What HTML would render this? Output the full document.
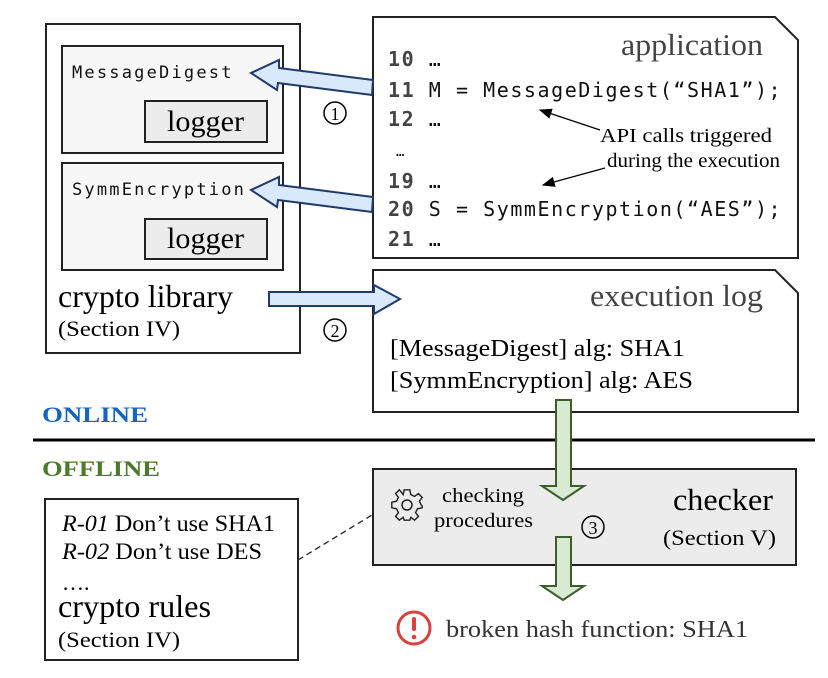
<!DOCTYPE html>
<html><head><style>body{margin:0;background:#fff}svg{display:block}</style></head><body>
<svg width="828" height="678" viewBox="0 0 828 678" xmlns="http://www.w3.org/2000/svg" font-family="Liberation Serif, serif">
<defs><marker id="ah" markerWidth="10" markerHeight="8" refX="9" refY="4" orient="auto"><path d="M0,0 L10,4 L0,8 z" fill="#000"/></marker></defs>
<!-- left library -->
<rect x="46" y="24" width="254" height="329" fill="#fff" stroke="#222" stroke-width="2"/>
<rect x="62" y="46" width="221" height="107" fill="#f7f7f7" stroke="#222" stroke-width="2"/>
<rect x="145" y="101" width="122" height="41" fill="#ececec" stroke="#222" stroke-width="2"/>
<rect x="62" y="163" width="221" height="107" fill="#f7f7f7" stroke="#222" stroke-width="2"/>
<rect x="145" y="219" width="122" height="40" fill="#ececec" stroke="#222" stroke-width="2"/>
<g font-family="DejaVu Sans Mono, Liberation Mono, monospace" font-size="17" fill="#111" letter-spacing="2.2">
<text x="72" y="78">MessageDigest</text><text x="72" y="195">SymmEncryption</text></g>
<text x="167" y="131" font-size="30" textLength="77" lengthAdjust="spacingAndGlyphs">logger</text>
<text x="167" y="248" font-size="30" textLength="77" lengthAdjust="spacingAndGlyphs">logger</text>
<text x="58" y="307" font-size="32" textLength="175" lengthAdjust="spacingAndGlyphs">crypto library</text>
<text x="58" y="336" font-size="22" textLength="122" lengthAdjust="spacingAndGlyphs">(Section IV)</text>
<!-- application -->
<path d="M373,17 H775 L798,40 V258 H373 Z" fill="#fff" stroke="#222" stroke-width="2"/>
<text x="621" y="55" font-size="31" fill="#444" textLength="142" lengthAdjust="spacingAndGlyphs">application</text>
<g font-family="DejaVu Sans Mono, Liberation Mono, monospace" font-size="20" fill="#111" letter-spacing="1.55">
<text x="388" y="66"><tspan fill="#444" font-weight="bold">10</tspan> …</text>
<text x="388" y="97"><tspan fill="#444" font-weight="bold">11</tspan> M = MessageDigest(“SHA1”);</text>
<text x="388" y="126"><tspan fill="#444" font-weight="bold">12</tspan> …</text>
<text x="396" y="156" font-size="14">…</text>
<text x="388" y="188"><tspan fill="#444" font-weight="bold">19</tspan> …</text>
<text x="388" y="216"><tspan fill="#444" font-weight="bold">20</tspan> S = SymmEncryption(“AES”);</text>
<text x="388" y="246"><tspan fill="#444" font-weight="bold">21</tspan> …</text></g>
<text x="600" y="142" font-size="20" textLength="172" lengthAdjust="spacingAndGlyphs">API calls triggered</text>
<text x="607" y="167" font-size="20" textLength="173" lengthAdjust="spacingAndGlyphs">during the execution</text>
<line x1="600" y1="130" x2="540" y2="110" stroke="#000" stroke-width="1.3" marker-end="url(#ah)"/>
<line x1="605" y1="168" x2="543" y2="185" stroke="#000" stroke-width="1.3" marker-end="url(#ah)"/>
<!-- execution log -->
<path d="M373,270 H775 L798,293 V412 H373 Z" fill="#fff" stroke="#222" stroke-width="2"/>
<text x="590" y="306" font-size="31" fill="#444" textLength="173" lengthAdjust="spacingAndGlyphs">execution log</text>
<text x="390" y="356" font-size="24" textLength="295" lengthAdjust="spacingAndGlyphs">[MessageDigest] alg: SHA1</text>
<text x="390" y="388" font-size="24" textLength="303" lengthAdjust="spacingAndGlyphs">[SymmEncryption] alg: AES</text>
<!-- blue arrows -->
<g fill="#dae8fc" stroke="#1f3a6b" stroke-width="2">
<path d="M373,80 L372,95 L278,83 L277,90 L251,73 L279,60 L279,68 L373,80 Z"/>
<path d="M373,197 L372,212 L278,200 L277,207 L251,190 L279,177 L279,185 L373,197 Z"/>
<path d="M269,292 H374 V285 L400,299 L374,314 V306 H269 Z"/>
</g>
<circle cx="335" cy="113" r="11" fill="none" stroke="#000" stroke-width="1.5"/><text x="335" y="120" text-anchor="middle" font-size="18">1</text>
<circle cx="335" cy="330" r="11" fill="none" stroke="#000" stroke-width="1.5"/><text x="335" y="337" text-anchor="middle" font-size="18">2</text>
<!-- online/offline -->
<text x="42" y="422" font-size="22" font-weight="bold" fill="#1565c0" textLength="106" lengthAdjust="spacingAndGlyphs">ONLINE</text>
<line x1="33" y1="440" x2="815" y2="440" stroke="#000" stroke-width="3"/>
<text x="42" y="476" font-size="22" font-weight="bold" fill="#4a7a2a" textLength="118" lengthAdjust="spacingAndGlyphs">OFFLINE</text>
<!-- checker -->
<rect x="373" y="469" width="423" height="96" fill="#ececec" stroke="#222" stroke-width="2"/>
<g fill="#d9ead3" stroke="#3b5e2a" stroke-width="2">
<path d="M556,400 H571 V486 H584 L563,500 L542,486 H556 Z"/>
<path d="M556,537 H571 V586 H584 L563,600 L542,586 H556 Z"/>
</g>
<g transform="translate(407,505)" fill="none" stroke="#222" stroke-width="1.5">
<circle r="5"/>
<path d="M-3,-16 H3 L4,-11 L8,-9 L12,-12 L16,-8 L13,-4 L15,0 L16,1 V3 L11,4 L9,8 L12,12 L8,16 L4,13 L3,16 H-3 L-4,13 L-8,16 L-12,12 L-9,8 L-11,4 L-16,3 V-3 L-11,-4 L-9,-8 L-12,-12 L-8,-16 L-4,-11 Z" transform="scale(0.95)"/>
</g>
<text x="442" y="502" font-size="20" textLength="82" lengthAdjust="spacingAndGlyphs">checking</text>
<text x="434" y="527" font-size="20" textLength="99" lengthAdjust="spacingAndGlyphs">procedures</text>
<circle cx="593" cy="527" r="11" fill="none" stroke="#000" stroke-width="1.5"/><text x="593" y="534" text-anchor="middle" font-size="18">3</text>
<text x="673" y="510" font-size="31" textLength="100" lengthAdjust="spacingAndGlyphs">checker</text>
<text x="663" y="545" font-size="22" textLength="113" lengthAdjust="spacingAndGlyphs">(Section V)</text>
<circle cx="414" cy="628" r="16" fill="none" stroke="#d9413c" stroke-width="3"/>
<rect x="412" y="617" width="4" height="14" rx="2" fill="#d9413c"/><circle cx="414" cy="637" r="2.3" fill="#d9413c"/>
<text x="446" y="637" font-size="24" fill="#333" textLength="302" lengthAdjust="spacingAndGlyphs">broken hash function: SHA1</text>
<!-- rules -->
<rect x="45" y="499" width="253" height="161" fill="#fff" stroke="#222" stroke-width="2"/>
<line x1="298" y1="560" x2="372" y2="515" stroke="#222" stroke-width="1.3" stroke-dasharray="6,4"/>
<text x="62" y="531" font-size="23" textLength="213" lengthAdjust="spacingAndGlyphs"><tspan font-style="italic">R-01</tspan> Don’t use SHA1</text>
<text x="62" y="559" font-size="23" textLength="200" lengthAdjust="spacingAndGlyphs"><tspan font-style="italic">R-02</tspan> Don’t use DES</text>
<text x="62" y="590" font-size="22">….</text>
<text x="58" y="617" font-size="32" textLength="153" lengthAdjust="spacingAndGlyphs">crypto rules</text>
<text x="58" y="647" font-size="22" textLength="122" lengthAdjust="spacingAndGlyphs">(Section IV)</text>
</svg>
</body></html>
